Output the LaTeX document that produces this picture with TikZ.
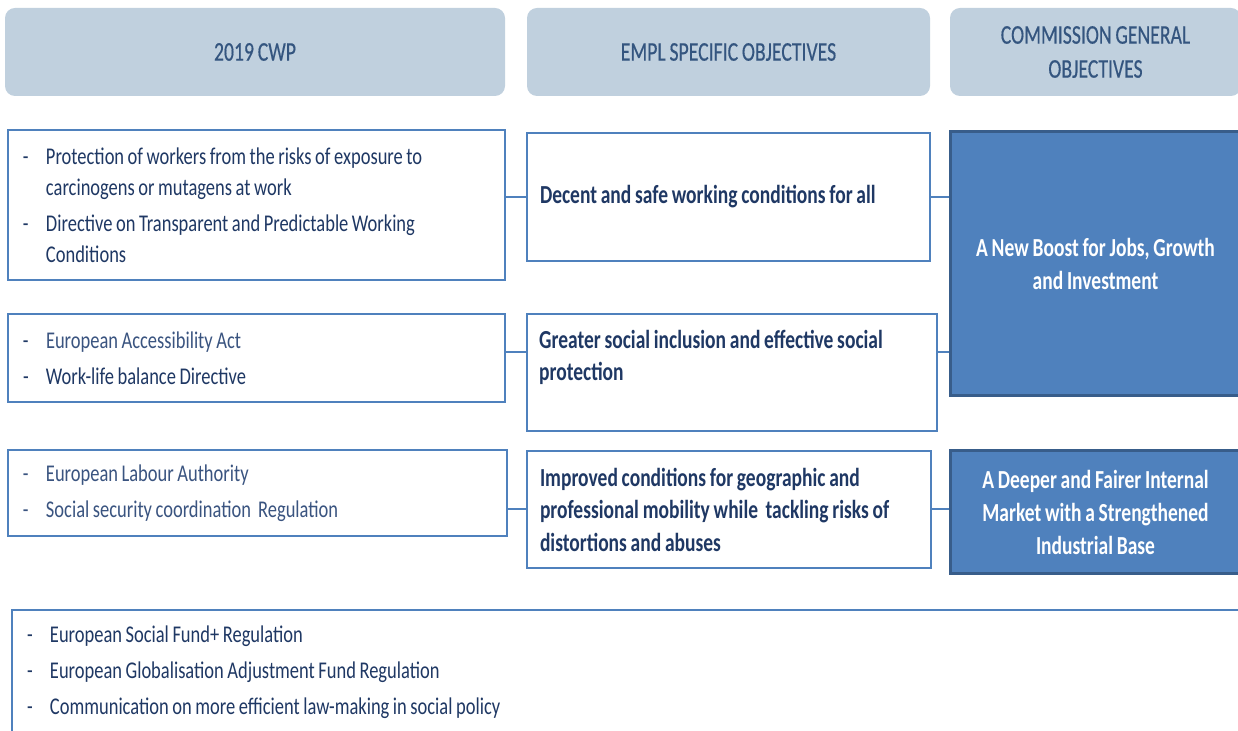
\documentclass[tikz,border=0pt]{standalone}
\usepackage{fontspec}
\setmainfont{Carlito}[FakeStretch=0.77, WordSpace=0.85,
  BoldFeatures={FakeStretch=0.75, WordSpace=0.85}]
\newfontfamily\headfont{Carlito}[FakeStretch=0.73, WordSpace=0.85, FakeBold=0.4]
\usetikzlibrary{positioning}
\definecolor{hdrfill}{RGB}{192,208,222}
\definecolor{hdrtext}{RGB}{52,85,127}
\definecolor{boxblue}{RGB}{79,129,189}
\definecolor{boxedge}{RGB}{56,93,138}
\definecolor{itemnavy}{RGB}{31,56,100}
\definecolor{itemslate}{RGB}{58,84,128}
% list lines with a hanging dash
\newcommand{\dashitem}[1]{\makebox[11.5pt][l]{-}#1}
\newcommand{\dashcont}[1]{\hspace*{11.5pt}#1}

\begin{document}
\begin{tikzpicture}[
  x=0.5pt,y=-0.5pt,
  hdr/.style={rounded corners=5pt, fill=hdrfill, text=hdrtext, align=center,
    inner sep=0pt, minimum height=44pt, font=\headfont\fontsize{13.5}{17}\selectfont},
  cwpbox/.style={draw=boxblue, line width=1.25pt, fill=white, text=itemnavy,
    align=flush left, inner xsep=7.5pt, inner ysep=0pt, font=\fontsize{12}{15.5}\selectfont},
  objbox/.style={draw=boxblue, line width=1.25pt, fill=white, text=itemnavy,
    align=flush left, inner xsep=6.5pt, inner ysep=0pt, font=\bfseries\fontsize{13}{16.25}\selectfont},
  objtext/.style={text=itemnavy, align=flush left, inner sep=0pt,
    font=\bfseries\fontsize{13}{16.25}\selectfont},
  goalbox/.style={draw=boxedge, line width=1.5pt, fill=boxblue, text=white,
    align=center, inner sep=0pt, minimum width=145.5pt,
    font=\bfseries\fontsize{13}{16.5}\selectfont},
  link/.style={draw=boxblue, line width=1pt}
]
\path[use as bounding box, fill=white] (0,0) rectangle (1238,731);
\clip (0,0) rectangle (1238,731);

% column heads
\node[hdr, minimum width=250pt] (h1) at (255,52) {2019 CWP};
\node[hdr, minimum width=201.5pt] (h2) at (728.5,52) {EMPL SPECIFIC OBJECTIVES};
\node[hdr, minimum width=145.5pt] (h3) at (1095.5,52) {COMMISSION GENERAL\\OBJECTIVES};

% work programme items
\node[cwpbox, text width=233.5pt, minimum height=75pt] (l1) at (256.5,205) {%
  \dashitem{Protection of workers from the risks of exposure to}\\
  \dashcont{carcinogens or mutagens at work}\\[2.5pt]
  \dashitem{Directive on Transparent and Predictable Working}\\
  \dashcont{Conditions}};
\node[cwpbox, text width=233.5pt, minimum height=44pt] (l2) at (256.5,358) {%
  \dashitem{\textcolor{itemslate}{European Accessibility Act}}\\[2.5pt]
  \dashitem{Work-life balance Directive}};
\node[cwpbox, text width=234.5pt, minimum height=43pt, text=itemslate] (l3) at (257.5,493) {%
  \dashitem{European Labour Authority}\\[2.5pt]
  \dashitem{Social security coordination\ \ Regulation}};
\node[cwpbox, text width=604pt, minimum height=62.5pt] (l4) at (631,672.5) {%
  \dashitem{European Social Fund+ Regulation}\\[2.5pt]
  \dashitem{European Globalisation Adjustment Fund Regulation}\\[2.5pt]
  \dashitem{Communication on more efficient law-making in social policy}};

% EMPL objectives
\node[objbox, text width=188.5pt, minimum height=64pt] (m1) at (728.5,197) {%
  Decent and safe working conditions for all};
\node[objbox, text width=192pt, minimum height=58.5pt] (m2) at (732,372.5) {};
\node[objtext, right=6.5pt of m2.west, yshift=7.5pt] (m2t) {%
  Greater social inclusion and effective social\\protection};
\node[objbox, text width=189pt, minimum height=58.5pt] (m3) at (729,509.5) {%
  Improved conditions for geographic and\\
  professional mobility while\ \ tackling risks of\\
  distortions and abuses};

% general objectives
\node[goalbox, minimum height=132pt] (r1) at (1095.5,264) {%
  A New Boost for Jobs, Growth\\and Investment};
\node[goalbox, minimum height=61.5pt] (r2) at (1095.5,512.5) {%
  A Deeper and Fairer Internal\\Market with a Strengthened\\Industrial Base};

% connectors
\coordinate (lvl2) at (0,352);
\draw[link] (l1.east |- m1.west) -- (m1.west);
\draw[link] (l2.east |- lvl2) -- (m2.west |- lvl2);
\draw[link] (l3.east |- m3.west) -- (m3.west);
\draw[link] (m1.east) -- (m1.east -| r1.west);
\draw[link] (m2.east |- lvl2) -- (r1.west |- lvl2);
\draw[link] (m3.east) -- (m3.east -| r2.west);
\end{tikzpicture}
\end{document}
